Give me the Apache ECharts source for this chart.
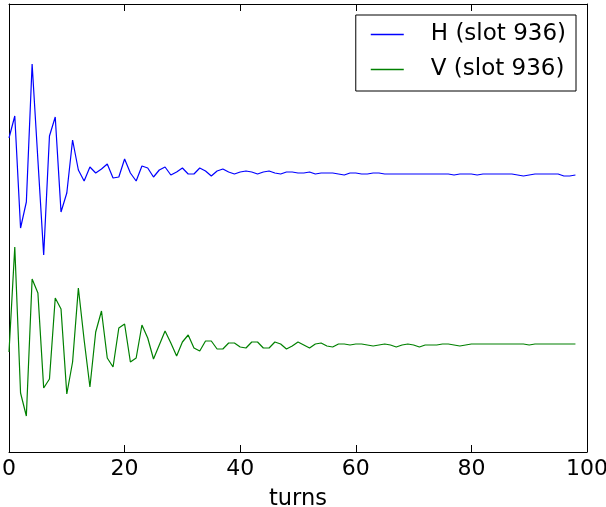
<!DOCTYPE html>
<html>
<head>
<meta charset="utf-8">
<script src="https://cdn.jsdelivr.net/npm/echarts@6/dist/echarts.min.js"></script>
<style>
  html, body { margin: 0; padding: 0; background: #fff; }
  #chart { width: 606px; height: 507px; }
</style>
</head>
<body>
<div id="chart"></div>
<script>
// beam position per turn (arbitrary units, y axis carries no labels)
const hPos = [
  314, 336, 224, 250, 388, 292, 197, 316, 335, 240,
  259, 312, 282, 271, 285, 279, 283, 288, 274, 275,
  293, 279, 271, 286, 284, 275, 282, 285, 277, 280,
  284, 278, 278, 284, 281, 276, 281, 283, 280, 278,
  280, 281, 280, 278, 280, 281, 279, 278, 280, 280,
  279, 279, 280, 278, 279, 279, 279, 278, 277, 279,
  279, 278, 278, 279, 279, 278, 278, 278, 278, 278,
  278, 278, 278, 278, 278, 278, 278, 277, 278, 278,
  278, 277, 278, 278, 278, 278, 278, 278, 277, 276,
  277, 278, 278, 278, 278, 278, 276, 276, 277
];
const vPos = [
  100, 205, 59, 36, 173, 159, 64, 73, 154, 143,
  58, 90, 164, 112, 65, 120, 141, 94, 85, 124,
  128, 90, 94, 127, 114, 93, 107, 121, 109, 96,
  110, 117, 104, 101, 111, 111, 103, 103, 109, 109,
  105, 104, 110, 110, 104, 104, 110, 108, 103, 106,
  110, 107, 104, 108, 109, 106, 105, 108, 108, 107,
  108, 108, 107, 106, 107, 108, 107, 105, 107, 108,
  107, 105, 107, 107, 107, 108, 108, 107, 106, 107,
  108, 108, 108, 108, 108, 108, 108, 108, 108, 108,
  107, 108, 108, 108, 108, 108, 108, 108, 108
];
const seriesNames = ['H (slot 936)', 'V (slot 936)'];
const xTicks = [0, 20, 40, 60, 80, 100];

const chart = echarts.init(document.getElementById('chart'));
const font = 'DejaVu Sans';
const black = '#000';

const toPairs = arr => arr.map((v, i) => [i, v]);

const frameY = position => ({
  type: 'value',
  position: position,
  min: 0,
  max: 448,
  axisLine: { show: true, onZero: false, lineStyle: { color: black, width: 1 } },
  axisTick: { show: false },
  axisLabel: { show: false },
  splitLine: { show: false }
});

chart.setOption({
  animation: false,
  backgroundColor: '#fff',
  grid: { left: 9, right: 19, top: 4, bottom: 55, containLabel: false, outerBoundsMode: 'none' },
  legend: {
    data: seriesNames,
    orient: 'vertical',
    right: 30,
    top: 15,
    icon: 'rect',
    itemWidth: 33,
    itemHeight: 1.5,
    itemGap: 12,
    padding: [8, 10, 10, 15],
    borderColor: black,
    borderWidth: 1,
    borderRadius: 0,
    backgroundColor: '#fff',
    textStyle: {
      fontFamily: font,
      fontSize: 23,
      color: black,
      lineHeight: 22,
      padding: [0, 0, 0, 22]
    }
  },
  xAxis: [
    {
      type: 'value',
      min: 0,
      max: 100,
      interval: 20,
      name: 'turns',
      nameLocation: 'middle',
      nameGap: 36,
      nameTextStyle: { fontFamily: font, fontSize: 22.5, color: black },
      axisLine: { show: true, onZero: false, lineStyle: { color: black, width: 1 } },
      axisTick: { show: true, inside: true, length: 7, lineStyle: { color: black } },
      axisLabel: {
        fontFamily: font, fontSize: 22, color: black, margin: 6,
        formatter: v => xTicks.includes(v) ? String(v) : ''
      },
      splitLine: { show: false }
    },
    {
      type: 'value',
      position: 'top',
      min: 0,
      max: 100,
      interval: 20,
      axisLine: { show: true, onZero: false, lineStyle: { color: black, width: 1 } },
      axisTick: { show: true, inside: true, length: 7, lineStyle: { color: black } },
      axisLabel: { show: false },
      splitLine: { show: false }
    }
  ],
  yAxis: [frameY('left'), frameY('right')],
  series: [
    {
      name: seriesNames[0],
      type: 'line',
      data: toPairs(hPos),
      showSymbol: false,
      color: '#0000ff',
      lineStyle: { color: '#0000ff', width: 1.2 }
    },
    {
      name: seriesNames[1],
      type: 'line',
      data: toPairs(vPos),
      showSymbol: false,
      color: '#008000',
      lineStyle: { color: '#008000', width: 1.2 }
    }
  ]
});
</script>
</body>
</html>
